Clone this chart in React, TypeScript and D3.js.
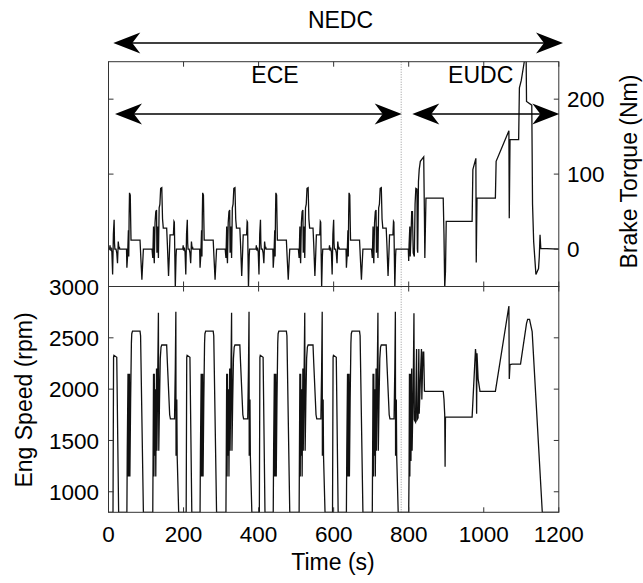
import React from "react";
import * as d3 from "d3";

// ---------- DATA ----------
const ECE_STARTS = [0, 195, 390, 585];
const ECE_END = 780;
const T_MAX = 1200;

// one ECE-15 urban cycle, time relative to cycle start (s), brake torque (Nm)
const ECE_TORQUE: [number, number][] = [
  [0, 0], [3, 0], [4, 5], [5, -2], [7, 2], [9, -4], [11, -34], [13, 20], [15, 39], [16, 8], [17, 0],
  [20, 0], [22, -5], [24, -19], [26, 10], [28, 0], [29, 3], [30, 0], [48, 0], [49, -25], [51, -8],
  [53, 25], [54, -10], [55, 45], [56, 75], [58, 72], [59, 40], [60, 12], [84, 12], [86, -10], [89, -41],
  [91, -20], [93, 0], [116, 0], [118, -12], [120, 30], [121, -8], [122, -19], [124, 35], [126, 50],
  [128, 52], [129, -5], [131, 30], [133, -12], [135, 55], [137, 60], [139, 81], [142, 82], [144, 40],
  [146, 28], [155, 28], [157, 5], [160, -36], [162, -10], [164, 19], [173, 19], [174.5, 37], [175.5, 36],
  [178, -52], [180, -10], [181, 0], [195, 0],
];

// one ECE-15 urban cycle, engine speed (rpm)
const ECE_SPEED: [number, number][] = [
  [0, 800], [12, 800], [13.5, 2310], [14.5, 2330], [22, 2310], [27, 800],
  [49, 800], [50, 1400], [52, 2150], [53, 1150], [54, 2150], [55, 1150], [56, 2150], [57, 1150],
  [59, 1900], [61, 2450], [62, 2540], [64, 2565], [84, 2565], [85.5, 2520], [93, 800],
  [118, 800], [120, 2150], [121, 1150], [122, 2150], [123, 1350], [125, 2000], [126, 1150],
  [128, 2200], [129, 1400], [133, 2745], [134, 1400], [136, 1900], [138, 2300], [140, 2410],
  [142, 2430], [155, 2430], [157, 2250], [163, 1750], [165, 1711], [176, 1711], [178, 2200],
  [179.5, 2755], [180, 1350], [182, 1900], [183, 1350], [187, 800], [195, 800],
];

// extra-urban cycle (absolute time, s), brake torque (Nm)
const EUDC_TORQUE: [number, number][] = [
  [780, 0], [799, 0], [800, -16], [801, 5], [803, 30], [804, -10], [806, 15], [808, 50], [810, 50],
  [812, -5], [815, -10], [817, 60], [819, 81], [822, 80], [823, 0], [824, -5], [826, 90], [828, 106],
  [831, 117], [840, 123], [842, 40], [843, -12], [846, 68], [892, 68], [894, 20], [896, -52],
  [898, -30], [900, 37], [969, 37], [971, 106], [979, 121], [980, -18], [982, 68], [1031, 68],
  [1033, 117], [1067, 158], [1068, 41], [1070, 146], [1093, 146], [1095, 215], [1100, 225],
  [1108, 250], [1113, 255], [1114, 197], [1128, 192], [1130, 60], [1133, 10], [1139, -34],
  [1146, -26], [1148, -10], [1150, 19], [1152, 1], [1200, 0],
];

// extra-urban cycle, engine speed (rpm)
const EUDC_SPEED: [number, number][] = [
  [780, 800], [800, 800], [801, 1200], [802, 2150], [803, 1150], [805, 2150], [806, 1300],
  [808, 2200], [809, 1400], [812, 2000], [814, 2740], [815, 1700], [818, 1680], [821, 2390],
  [822, 1700], [825, 1720], [827, 2390], [828, 1760], [832, 2200], [834, 2390], [835, 1900],
  [838, 2360], [840, 2360], [842, 1980], [845, 1979], [892, 1979], [894, 1900], [896, 1750],
  [897, 1243], [898, 1727], [905, 1727], [969, 1727], [978, 2390], [980, 2300], [981, 1760],
  [982, 2350], [985, 2100], [990, 1979], [1031, 1979], [1067, 2810], [1068, 2100], [1070, 2240],
  [1076, 2244], [1098, 2244], [1114, 2640], [1117, 2680], [1122, 2680], [1129, 2560],
  [1156, 800], [1200, 800],
];

const X_TICKS = [0, 200, 400, 600, 800, 1000, 1200];
const TORQUE_TICKS = [0, 100, 200];
const SPEED_TICKS = [1000, 1500, 2000, 2500, 3000];

function buildSeries(ece: [number, number][], eudc: [number, number][]) {
  const out: [number, number][] = [];
  ECE_STARTS.forEach((s) => ece.forEach(([t, v]) => out.push([s + t, v])));
  eudc.forEach((p) => out.push(p));
  return out;
}

const torqueSeries = buildSeries(ECE_TORQUE, EUDC_TORQUE);
const speedSeries = buildSeries(ECE_SPEED, EUDC_SPEED);

// ---------- LAYOUT ----------
const W = 643;
const H = 583;
const X0 = 108.5;
const X1 = 558.8;
const TOP_Y0 = 61.7;
const MID_Y = 286.5;
const BOT_Y1 = 512.3;
const FONT = "'Liberation Sans', Arial, Helvetica, sans-serif";
const FS = 22.5;
const TICK = 5;

const x = d3.scaleLinear().domain([0, T_MAX]).range([X0, X1]);
const yT = d3.scaleLinear().domain([-50, 250]).range([MID_Y, TOP_Y0]);
const yS = d3.scaleLinear().domain([800, 3000]).range([BOT_Y1, MID_Y]);

const torqueLine = d3.line<[number, number]>().x((d) => x(d[0])).y((d) => yT(d[1]));
const speedLine = d3.line<[number, number]>().x((d) => x(d[0])).y((d) => yS(d[1]));

function arrowHead(tipX: number, y: number, dir: number) {
  const L = 27, Wd = 10.5, N = 19;
  return `M${tipX},${y} L${tipX + dir * L},${y - Wd} L${tipX + dir * N},${y} L${tipX + dir * L},${y + Wd} Z`;
}

function DoubleArrow({ xa, xb, y }: { xa: number; xb: number; y: number }) {
  return (
    <g>
      <line x1={xa + 10} x2={xb - 10} y1={y} y2={y} stroke="#000" strokeWidth={1.6} />
      <path d={arrowHead(xa, y, 1)} fill="#000" />
      <path d={arrowHead(xb, y, -1)} fill="#000" />
    </g>
  );
}

export default function App() {
  const frame = "#333";
  return (
    <svg
      width={W}
      height={H}
      style={{ position: "absolute", left: 0, top: 0, background: "#fff" }}
      fontFamily={FONT}
    >
      <defs>
        <clipPath id="clipTop">
          <rect x={X0} y={TOP_Y0} width={X1 - X0} height={MID_Y - TOP_Y0} />
        </clipPath>
        <clipPath id="clipBot">
          <rect x={X0} y={MID_Y} width={X1 - X0} height={BOT_Y1 - MID_Y} />
        </clipPath>
      </defs>
      <rect x={0} y={0} width={W} height={H} fill="#fff" />

      {/* ECE / EUDC boundary */}
      <line
        x1={x(ECE_END)}
        x2={x(ECE_END)}
        y1={TOP_Y0}
        y2={BOT_Y1}
        stroke="#999"
        strokeWidth={1}
        strokeDasharray="1,1.5"
      />

      {/* data */}
      <path
        d={torqueLine(torqueSeries) || ""}
        fill="none"
        stroke="#111"
        strokeWidth={1.3}
        clipPath="url(#clipTop)"
      />
      <path
        d={speedLine(speedSeries) || ""}
        fill="none"
        stroke="#111"
        strokeWidth={1.3}
        clipPath="url(#clipBot)"
      />

      {/* frames */}
      <rect x={X0} y={TOP_Y0} width={X1 - X0} height={MID_Y - TOP_Y0} fill="none" stroke={frame} strokeWidth={1} />
      <rect x={X0} y={MID_Y} width={X1 - X0} height={BOT_Y1 - MID_Y} fill="none" stroke={frame} strokeWidth={1} />

      {/* x ticks on all horizontal edges */}
      {X_TICKS.map((t) => (
        <g key={"xt" + t} stroke={frame} strokeWidth={1}>
          <line x1={x(t)} x2={x(t)} y1={TOP_Y0} y2={TOP_Y0 + TICK} />
          <line x1={x(t)} x2={x(t)} y1={MID_Y} y2={MID_Y - TICK} />
          <line x1={x(t)} x2={x(t)} y1={MID_Y} y2={MID_Y + TICK} />
          <line x1={x(t)} x2={x(t)} y1={BOT_Y1} y2={BOT_Y1 - TICK} />
        </g>
      ))}
      {/* torque ticks */}
      {TORQUE_TICKS.map((v) => (
        <g key={"tt" + v}>
          <line x1={X0} x2={X0 + TICK} y1={yT(v)} y2={yT(v)} stroke={frame} />
          <line x1={X1} x2={X1 - TICK} y1={yT(v)} y2={yT(v)} stroke={frame} />
          <text x={567} y={yT(v)} dy="0.36em" fontSize={FS} fill="#000">
            {v}
          </text>
        </g>
      ))}
      {/* speed ticks */}
      {SPEED_TICKS.map((v) => (
        <g key={"st" + v}>
          <line x1={X0} x2={X0 + TICK} y1={yS(v)} y2={yS(v)} stroke={frame} />
          <line x1={X1} x2={X1 - TICK} y1={yS(v)} y2={yS(v)} stroke={frame} />
          <text x={99} y={yS(v)} dy="0.36em" fontSize={FS} textAnchor="end" fill="#000">
            {v}
          </text>
        </g>
      ))}
      {/* x tick labels */}
      {X_TICKS.map((t) => (
        <text key={"xl" + t} x={x(t)} y={541.5} fontSize={FS} textAnchor="middle" fill="#000">
          {t}
        </text>
      ))}

      {/* axis labels */}
      <text x={333} y={570} fontSize={23} textAnchor="middle" fill="#000">
        Time (s)
      </text>
      <text transform="translate(31.5,400) rotate(-90)" fontSize={23} textAnchor="middle" fill="#000">
        Eng Speed (rpm)
      </text>
      <text transform="translate(636.5,171.5) rotate(-90)" fontSize={23} textAnchor="middle" fill="#000">
        Brake Torque (Nm)
      </text>

      {/* cycle annotations */}
      <text x={340.5} y={28} fontSize={23} textAnchor="middle" fill="#000">
        NEDC
      </text>
      <DoubleArrow xa={113.3} xb={563} y={43} />
      <text x={275} y={83.3} fontSize={23} textAnchor="middle" fill="#000">
        ECE
      </text>
      <text x={480.7} y={83.3} fontSize={23} textAnchor="middle" fill="#000">
        EUDC
      </text>
      <DoubleArrow xa={115} xb={401.7} y={114} />
      <DoubleArrow xa={412.3} xb={559.3} y={114} />
    </svg>
  );
}
